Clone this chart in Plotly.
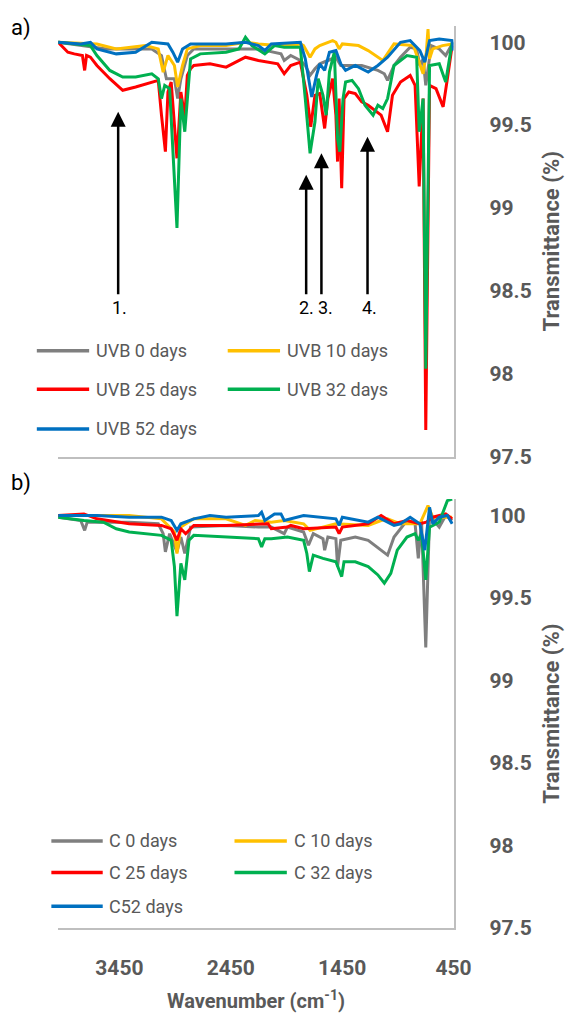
import plotly.graph_objects as go

W, H = 581, 1019

# ---------------- data ----------------
X_RANGE = [4000, 450]
Y_RANGE = [97.5, 100.1]
X_TICKS = [3450, 2450, 1450, 450]
Y_TICKS = [97.5, 98, 98.5, 99, 99.5, 100]

UVB_NAMES = ["UVB 0 days", "UVB 10 days", "UVB 25 days", "UVB 32 days", "UVB 52 days"]
C_NAMES = ["C 0 days", "C 10 days", "C 25 days", "C 32 days", "C52 days"]
COLORS = ["#7F7F7F", "#FFC000", "#FF0000", "#00B050", "#0070C0"]

# (wavenumber cm-1, transmittance %)
UVB_0 = [(4000, 100.0), (3797, 99.98), (3565, 99.96), (3159, 99.96), (3072, 99.92), (3028, 99.78),
         (2956, 99.78), (2927, 99.66), (2898, 99.78), (2840, 99.92), (2782, 99.96), (2492, 99.96),
         (2202, 99.96), (1999, 99.93), (1970, 99.89), (1912, 99.92), (1825, 99.89), (1781, 99.86),
         (1738, 99.80), (1694, 99.84), (1651, 99.87), (1578, 99.89), (1506, 99.91), (1462, 99.86),
         (1419, 99.86), (1274, 99.86), (1129, 99.83), (1071, 99.81), (1042, 99.77), (984, 99.86),
         (926, 99.91), (839, 99.97), (781, 99.96), (752, 99.86), (723, 99.90), (699, 99.74),
         (650, 99.98), (578, 99.96), (520, 99.92), (462, 99.99)]
UVB_10 = [(4000, 100.0), (3652, 99.99), (3478, 99.96), (3217, 99.98), (3101, 99.96), (3057, 99.82),
          (3014, 99.92), (2956, 99.86), (2927, 99.73), (2883, 99.86), (2840, 99.96), (2724, 99.98),
          (2492, 99.98), (2318, 100.0), (2202, 99.99), (2028, 99.98), (1912, 99.98), (1825, 99.99),
          (1796, 99.98), (1738, 99.91), (1694, 99.96), (1651, 99.98), (1535, 100.01), (1506, 100.0),
          (1477, 99.96), (1448, 99.99), (1303, 99.98), (1216, 99.95), (1085, 99.89), (1042, 99.93),
          (984, 99.99), (810, 99.98), (766, 99.90), (723, 99.81), (694, 99.94), (679, 100.08),
          (665, 99.90), (636, 99.96), (549, 99.98), (462, 99.99)]
UVB_25 = [(4000, 100.0), (3913, 99.94), (3855, 99.93), (3782, 99.92), (3762, 99.83), (3745, 99.92),
          (3710, 99.91), (3652, 99.86), (3536, 99.78), (3420, 99.71), (3304, 99.73), (3159, 99.76),
          (3101, 99.77), (3072, 99.56), (3037, 99.34), (3014, 99.70), (2985, 99.76), (2933, 99.30),
          (2898, 99.70), (2863, 99.55), (2840, 99.80), (2811, 99.84), (2782, 99.86), (2637, 99.87),
          (2492, 99.85), (2318, 99.91), (2202, 99.89), (2028, 99.87), (1970, 99.81), (1912, 99.86),
          (1825, 99.88), (1767, 99.68), (1732, 99.49), (1694, 99.68), (1651, 99.69), (1607, 99.48),
          (1578, 99.66), (1535, 99.78), (1506, 99.56), (1491, 99.28), (1477, 99.66), (1454, 99.12),
          (1433, 99.66), (1390, 99.70), (1332, 99.69), (1274, 99.64), (1216, 99.62), (1100, 99.56),
          (1042, 99.46), (998, 99.68), (926, 99.76), (839, 99.80), (795, 99.74), (758, 99.13),
          (723, 99.66), (699, 97.66), (665, 99.74), (607, 99.72), (543, 99.61), (505, 99.78),
          (462, 99.98)]
UVB_32 = [(4000, 100.0), (3710, 99.98), (3652, 99.92), (3536, 99.83), (3420, 99.79), (3304, 99.79),
          (3159, 99.81), (3101, 99.78), (3072, 99.66), (3043, 99.74), (2999, 99.72), (2933, 98.88),
          (2898, 99.66), (2863, 99.46), (2811, 99.90), (2724, 99.93), (2492, 99.94), (2376, 99.96),
          (2318, 100.03), (2260, 99.98), (2144, 99.93), (2086, 99.96), (2057, 99.98), (1970, 99.97),
          (1941, 99.97), (1825, 99.97), (1781, 99.66), (1738, 99.33), (1694, 99.52), (1665, 99.78),
          (1622, 99.68), (1593, 99.56), (1564, 99.82), (1520, 99.94), (1491, 99.42), (1471, 99.34),
          (1442, 99.66), (1419, 99.76), (1361, 99.77), (1303, 99.72), (1245, 99.62), (1172, 99.56),
          (1129, 99.62), (1085, 99.60), (1042, 99.66), (984, 99.86), (868, 99.92), (781, 99.91),
          (758, 99.46), (723, 99.66), (699, 98.03), (665, 99.86), (578, 99.87), (520, 99.76),
          (462, 100.0)]
UVB_52 = [(4000, 100.0), (3797, 99.99), (3710, 100.0), (3652, 99.96), (3478, 99.93), (3304, 99.94),
          (3159, 100.0), (3014, 99.99), (2970, 99.94), (2927, 99.88), (2883, 99.96), (2811, 99.99),
          (2492, 99.99), (2318, 100.0), (2202, 99.98), (2144, 99.95), (2086, 99.99), (1825, 100.0),
          (1781, 99.90), (1723, 99.67), (1680, 99.80), (1651, 99.87), (1607, 99.83), (1564, 99.94),
          (1506, 99.95), (1462, 99.87), (1419, 99.83), (1332, 99.86), (1216, 99.82), (1129, 99.86),
          (1042, 99.91), (926, 100.0), (839, 100.01), (752, 99.95), (708, 99.88), (665, 100.01),
          (578, 100.02), (462, 100.01), (450, 99.95)]

C_0 = [(4000, 99.99), (3797, 99.97), (3762, 99.91), (3739, 99.96), (3362, 99.96), (3101, 99.95),
       (3057, 99.89), (3037, 99.78), (2999, 99.89), (2933, 99.78), (2898, 99.87), (2863, 99.77),
       (2811, 99.93), (2492, 99.94), (2202, 99.93), (2086, 99.93), (1970, 99.89), (1941, 99.93),
       (1796, 99.90), (1752, 99.82), (1709, 99.89), (1622, 99.86), (1607, 99.79), (1578, 99.87),
       (1506, 99.86), (1491, 99.69), (1462, 99.85), (1332, 99.87), (1216, 99.85), (1100, 99.79),
       (1042, 99.76), (984, 99.87), (868, 99.97), (795, 99.95), (766, 99.74), (737, 99.97),
       (699, 99.20), (665, 100.0), (578, 99.93), (520, 100.0), (462, 99.97)]
C_10 = [(4000, 100.0), (3652, 100.0), (3362, 100.0), (3072, 99.98), (2956, 99.90), (2933, 99.77),
        (2898, 99.93), (2782, 99.98), (2492, 99.98), (2318, 99.94), (2231, 99.97), (2086, 99.96),
        (1970, 99.97), (1796, 99.95), (1738, 99.91), (1506, 99.95), (1216, 99.94), (1100, 99.97),
        (1042, 99.98), (926, 99.95), (752, 99.95), (679, 100.06), (636, 99.99), (462, 99.99)]
C_25 = [(4000, 100.0), (3768, 100.01), (3652, 99.98), (3362, 99.95), (3072, 99.94), (2985, 99.92),
        (2933, 99.85), (2898, 99.92), (2855, 99.89), (2782, 99.94), (2492, 99.94), (2115, 99.95),
        (2086, 99.92), (1941, 99.93), (1912, 99.94), (1796, 99.92), (1506, 99.93), (1477, 99.89),
        (1448, 99.93), (1216, 99.95), (1100, 100.0), (984, 99.95), (868, 99.97), (752, 99.95),
        (694, 99.96), (636, 99.99), (520, 100.01), (462, 99.98)]
C_32 = [(4000, 99.99), (3768, 99.97), (3594, 99.96), (3478, 99.92), (3362, 99.90), (3072, 99.88),
        (2985, 99.85), (2956, 99.69), (2933, 99.39), (2898, 99.71), (2863, 99.61), (2825, 99.85),
        (2782, 99.88), (2492, 99.87), (2202, 99.86), (2173, 99.81), (2144, 99.86), (2086, 99.86),
        (1941, 99.87), (1796, 99.85), (1767, 99.77), (1744, 99.66), (1709, 99.76), (1622, 99.74),
        (1506, 99.72), (1477, 99.67), (1454, 99.63), (1433, 99.72), (1332, 99.72), (1216, 99.69),
        (1129, 99.64), (1071, 99.59), (1013, 99.65), (955, 99.79), (868, 99.87), (795, 99.89),
        (766, 99.85), (737, 99.89), (699, 99.61), (665, 99.93), (578, 99.96), (505, 100.09),
        (462, 100.1)]
C_52 = [(4000, 100.0), (3652, 100.0), (3362, 99.99), (3072, 99.99), (2985, 99.97), (2933, 99.91),
        (2898, 99.95), (2782, 99.98), (2637, 100.0), (2492, 99.99), (2202, 100.0), (2173, 100.02),
        (2144, 99.97), (2057, 100.01), (1999, 100.01), (1970, 99.97), (1796, 100.0), (1506, 99.98),
        (1477, 99.94), (1448, 99.99), (1216, 99.96), (1129, 99.99), (984, 99.94), (926, 99.95),
        (839, 99.99), (752, 99.95), (708, 99.79), (665, 100.05), (636, 99.95), (578, 99.99),
        (505, 100.0), (462, 99.95)]

# arrows in panel a): wavenumber, tip transmittance
ARROW_WN = [3461, 1773, 1636, 1222]
ARROW_TIP = [99.58, 99.20, 99.33, 99.43]
ARROW_BASE = 98.47
ARROW_LABEL_WN = [3452, 1770, 1598, 1205]
ARROW_LABEL_Y = 98.40
ARROW_LABELS = ["1.", "2.", "3.", "4."]

# ---------------- layout helpers ----------------
def px(x):
    return x / W

def py(y):
    return 1 - y / H

GRAY_TXT = "#595959"
AXIS_LINE = "#BFBFBF"
FONT = "Roboto"

fig = go.Figure()

for series, name, color in zip([UVB_0, UVB_10, UVB_25, UVB_32, UVB_52], UVB_NAMES, COLORS):
    wn, t = zip(*series)
    fig.add_trace(go.Scatter(x=list(wn), y=list(t), mode="lines", name=name,
                             line=dict(color=color, width=3), xaxis="x", yaxis="y",
                             showlegend=False))
for series, name, color in zip([C_0, C_10, C_25, C_32, C_52], C_NAMES, COLORS):
    wn, t = zip(*series)
    fig.add_trace(go.Scatter(x=list(wn), y=list(t), mode="lines", name=name,
                             line=dict(color=color, width=3), xaxis="x2", yaxis="y2",
                             showlegend=False))

xdom = [px(60), px(468)]
tickfont = dict(family=FONT, size=21, color=GRAY_TXT, weight="bold")
xcommon = dict(domain=xdom, range=X_RANGE, showline=True, linecolor=AXIS_LINE, linewidth=1.5,
               showgrid=False, zeroline=False, tickvals=X_TICKS, ticks="", tickfont=tickfont,
               ticklabelstandoff=20)
ycommon = dict(range=Y_RANGE, side="right", showline=True, linecolor=AXIS_LINE, linewidth=1.5,
               showgrid=False, zeroline=False, tickvals=Y_TICKS, ticks="", tickfont=tickfont,
               ticklabelstandoff=30)

fig.update_layout(
    width=W, height=H, margin=dict(l=0, r=0, t=0, b=0),
    paper_bgcolor="white", plot_bgcolor="white",
    xaxis=dict(xcommon, anchor="y", showticklabels=False),
    yaxis=dict(ycommon, anchor="x", domain=[py(462), py(26)]),
    xaxis2=dict(xcommon, anchor="y2", showticklabels=True),
    yaxis2=dict(ycommon, anchor="x2", domain=[py(939), py(505)]),
)

annotations = []
shapes = []

# arrows + labels
for wn, tip, lwn, lab in zip(ARROW_WN, ARROW_TIP, ARROW_LABEL_WN, ARROW_LABELS):
    annotations.append(dict(x=wn, y=tip, ax=wn, ay=ARROW_BASE, xref="x", yref="y",
                            axref="x", ayref="y", text="", showarrow=True, arrowhead=2,
                            arrowsize=1.2, arrowwidth=2.5, arrowcolor="black",
                            standoff=0, startstandoff=0))
    annotations.append(dict(x=lwn, y=ARROW_LABEL_Y, xref="x", yref="y", text=lab,
                            showarrow=False,
                            font=dict(family=FONT, size=18, color="black")))

# manual legends
def legend(names, rows, line_x, text_x, size):
    for i, (name, color) in enumerate(zip(names, COLORS)):
        col, row = i % 2, i // 2
        yy = py(rows[row])
        shapes.append(dict(type="line", xref="paper", yref="paper",
                           x0=px(line_x[col][0]), x1=px(line_x[col][1]), y0=yy, y1=yy,
                           line=dict(color=color, width=3.5)))
        annotations.append(dict(x=px(text_x[col]), y=yy, xref="paper", yref="paper",
                                text=name, showarrow=False, xanchor="left", yanchor="middle",
                                font=dict(family=FONT, size=size, color=GRAY_TXT)))

legend(UVB_NAMES, [355, 394, 434], [(38, 92), (235, 289)], [97, 294], 18)
legend(C_NAMES, [851, 883, 917], [(53, 106), (242, 296)], [110, 301], 18)

# axis titles
annotations.append(dict(x=px(264), y=py(1012), xref="paper", yref="paper",
                        text="Wavenumber (cm<sup>-1</sup>)", showarrow=False,
                        xanchor="center", yanchor="middle",
                        font=dict(family=FONT, size=20, color=GRAY_TXT, weight="bold")))
for yc in [244, 722]:
    annotations.append(dict(x=px(569), y=py(yc), xref="paper", yref="paper",
                            text="Transmittance (%)", showarrow=False, textangle=-90,
                            xanchor="center", yanchor="middle",
                            font=dict(family=FONT, size=22, color=GRAY_TXT, weight="bold")))

# panel labels
annotations.append(dict(x=px(22), y=py(28), xref="paper", yref="paper", text="a)",
                        showarrow=False, xanchor="center", yanchor="middle",
                        font=dict(family=FONT, size=22, color="black")))
annotations.append(dict(x=px(22), y=py(489), xref="paper", yref="paper", text="b)",
                        showarrow=False, xanchor="center", yanchor="middle",
                        font=dict(family=FONT, size=22, color="black")))

fig.update_layout(annotations=annotations, shapes=shapes)
fig.write_html("out.html")
